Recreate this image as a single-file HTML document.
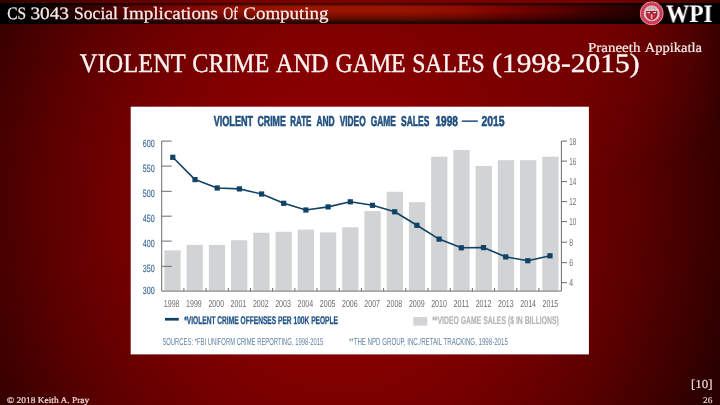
<!DOCTYPE html>
<html>
<head>
<meta charset="utf-8">
<title>Violent Crime and Game Sales</title>
<style>
html,body{margin:0;padding:0;}
body{width:720px;height:405px;overflow:hidden;position:relative;background:#6a0000;font-family:"Liberation Serif",serif;}
#bg{position:absolute;left:0;top:0;width:720px;height:405px;
 background:radial-gradient(circle at 600px 0px, rgba(144,0,0,0.58) 0, rgba(144,0,0,0.45) 50px, rgba(144,0,0,0.2) 120px, rgba(144,0,0,0) 175px),radial-gradient(ellipse 340px 378px at 340px 205px, #900000 0%, #8f0000 10%, #8d0000 20%, #8a0000 30%, #840000 40%, #7e0000 50%, #760000 60%, #6d0000 70%, #620000 80%, #560000 90%, #480000 100%, #390000 110%, #280000 120%, #260000 140%);}
#bar{position:absolute;left:0;top:3px;width:720px;height:20.5px;
 background:linear-gradient(to right,#000 0px,#000 20px,#0c0000 40px,#200000 62px,#420000 100px,#640000 140px,#7a0400 170px,#880800 200px,#941000 250px,#9a1400 300px,#9a1400 400px,#900c00 460px,#7c0400 500px,#5a0000 560px,#3c0000 600px,#280000 635px,#160000 665px,#060000 692px,#000 708px);}
#barshade{position:absolute;left:0;top:3px;width:720px;height:20.5px;
 background:linear-gradient(to bottom,rgba(0,0,0,.7) 0%,rgba(0,0,0,.45) 8%,rgba(0,0,0,0) 18%,rgba(0,0,0,0) 40%,rgba(0,0,0,.25) 65%,rgba(0,0,0,.5) 82%,rgba(0,0,0,.75) 92%,rgba(0,0,0,.8) 100%);}
.t{position:absolute;white-space:nowrap;text-rendering:geometricPrecision;will-change:transform;color:#f7ecec;line-height:1;transform-origin:0 0;}
#ref{left:691px;top:378.05px;font-size:12.2px;color:#f0dede;transform:scaleX(1.06);-webkit-text-stroke:0.15px #f0dede;}
#pg{left:703.2px;top:395.55px;font-size:8.6px;color:#ead4d4;transform:scaleX(1.08);-webkit-text-stroke:0.15px #ead4d4;}
#copy{left:6.6px;top:396.2px;font-size:8.86px;color:#f0e0e0;transform:scaleX(1.065);-webkit-text-stroke:0.2px #f0e0e0;}
#wpi{left:666px;top:1.7px;font-size:25.2px;font-weight:bold;color:#fff;transform:scaleX(0.925);}
svg{position:absolute;left:0;top:0;will-change:transform;}
</style>
</head>
<body>
<div id="bg"></div>
<div id="bar"></div>
<div id="barshade"></div>
<svg id="seal" width="720" height="30" viewBox="0 0 720 30">
<g transform="translate(651.7 13.4)">
<circle r="11.8" fill="#eda3ad"/>
<circle r="11.1" fill="#d7465f"/>
<circle r="9.4" fill="none" stroke="#ab2740" stroke-width="1.6" stroke-dasharray="1.0 1.5"/>
<circle r="7.9" fill="#ebbcc2"/>
<circle r="7.1" fill="#d9c2c4"/>
<path d="M-4.4 -4.3Q-2.4 -6.6 0 -6.6Q2.4 -6.6 4.4 -4.3L3.2 -3.3Q1.6 -4.6 0 -4.6Q-1.6 -4.6 -3.2 -3.3Z" fill="#b5abae"/>
<path d="M-0.8 -6.2H0.8V-3.2H-0.8Z" fill="#cfc6c8"/>
<path d="M-5.6 -2.5H5.6V1.2Q5.4 5 0 7.2Q-5.4 5 -5.6 1.2Z" fill="#a51a32"/>
<path d="M-4.3 -1.5H-1.5V-0.2H-4.3ZM1.5 -1.5H4.3V-0.2H1.5Z" fill="#f6dde0"/>
<path d="M-1.0 0.6H1.0V5.6L0 6.3L-1.0 5.6Z" fill="#f4939f"/>
<path d="M-3.9 1.0L-1.9 1.0L-1.9 4.7Q-3.4 3.4 -3.9 1.0ZM3.9 1.0L1.9 1.0L1.9 4.7Q3.4 3.4 3.9 1.0Z" fill="#cc3850"/>
</g>
</svg>
<div class="t" id="wpi">WPI</div>
<div class="t" id="ref">[10]</div>
<div class="t" id="pg">26</div>
<div class="t" id="copy">© 2018 Keith A. Pray</div>
<svg id="chart" width="720" height="405" viewBox="0 0 720 405">
<rect x="130.7" y="106.7" width="458.2" height="247.7" fill="#ffffff"/>
<rect x="164.35" y="250.4" width="16.3" height="40.2" fill="#d1d3d4"/>
<rect x="186.58" y="244.9" width="16.3" height="45.7" fill="#d1d3d4"/>
<rect x="208.81" y="244.9" width="16.3" height="45.7" fill="#d1d3d4"/>
<rect x="231.04" y="240.2" width="16.3" height="50.4" fill="#d1d3d4"/>
<rect x="253.27" y="232.7" width="16.3" height="57.9" fill="#d1d3d4"/>
<rect x="275.50" y="231.8" width="16.3" height="58.8" fill="#d1d3d4"/>
<rect x="297.73" y="229.6" width="16.3" height="61.0" fill="#d1d3d4"/>
<rect x="319.96" y="232.4" width="16.3" height="58.2" fill="#d1d3d4"/>
<rect x="342.19" y="227.3" width="16.3" height="63.3" fill="#d1d3d4"/>
<rect x="364.42" y="211.1" width="16.3" height="79.5" fill="#d1d3d4"/>
<rect x="386.65" y="191.8" width="16.3" height="98.8" fill="#d1d3d4"/>
<rect x="408.88" y="202.2" width="16.3" height="88.4" fill="#d1d3d4"/>
<rect x="431.11" y="156.7" width="16.3" height="133.9" fill="#d1d3d4"/>
<rect x="453.34" y="150.0" width="16.3" height="140.6" fill="#d1d3d4"/>
<rect x="475.57" y="166.0" width="16.3" height="124.6" fill="#d1d3d4"/>
<rect x="497.80" y="160.2" width="16.3" height="130.4" fill="#d1d3d4"/>
<rect x="520.03" y="160.2" width="16.3" height="130.4" fill="#d1d3d4"/>
<rect x="542.26" y="156.7" width="16.3" height="133.9" fill="#d1d3d4"/>
<g stroke="#6a6b6d" stroke-width="1" fill="none">
<path d="M171.7 141.1H161.7V291.1H561.4V141.1H567"/>
<path d="M161.7 166.1H171.7"/>
<path d="M161.7 191.3H171.7"/>
<path d="M161.7 216.2H171.7"/>
<path d="M161.7 241.1H171.7"/>
<path d="M161.7 266.3H171.7"/>
<path d="M561.4 161.1H567"/>
<path d="M561.4 181.6H567"/>
<path d="M561.4 201.6H567"/>
<path d="M561.4 221.6H567"/>
<path d="M561.4 242.2H567"/>
<path d="M561.4 262.7H567"/>
<path d="M561.4 282.7H567"/>
<path d="M183.90 288V291.1"/>
<path d="M206.09 288V291.1"/>
<path d="M228.28 288V291.1"/>
<path d="M250.47 288V291.1"/>
<path d="M272.66 288V291.1"/>
<path d="M294.85 288V291.1"/>
<path d="M317.04 288V291.1"/>
<path d="M339.23 288V291.1"/>
<path d="M361.42 288V291.1"/>
<path d="M383.61 288V291.1"/>
<path d="M405.80 288V291.1"/>
<path d="M427.99 288V291.1"/>
<path d="M450.18 288V291.1"/>
<path d="M472.37 288V291.1"/>
<path d="M494.56 288V291.1"/>
<path d="M516.75 288V291.1"/>
<path d="M538.94 288V291.1"/>
</g>
<polyline points="172.8,157.3 195.0,179.6 217.2,188.0 239.4,188.9 261.6,194.0 283.8,203.3 305.9,210.0 328.1,206.9 350.3,201.8 372.5,205.3 394.7,211.8 416.9,225.3 439.1,239.1 461.3,247.8 483.5,247.6 505.7,256.9 527.8,260.7 550.0,255.8" fill="none" stroke="#0f4265" stroke-width="1.6" stroke-linejoin="round"/>
<rect x="170.2" y="154.7" width="5.2" height="5.2" fill="#0f4265"/>
<rect x="192.4" y="177.0" width="5.2" height="5.2" fill="#0f4265"/>
<rect x="214.6" y="185.4" width="5.2" height="5.2" fill="#0f4265"/>
<rect x="236.8" y="186.3" width="5.2" height="5.2" fill="#0f4265"/>
<rect x="259.0" y="191.4" width="5.2" height="5.2" fill="#0f4265"/>
<rect x="281.1" y="200.7" width="5.2" height="5.2" fill="#0f4265"/>
<rect x="303.3" y="207.4" width="5.2" height="5.2" fill="#0f4265"/>
<rect x="325.5" y="204.3" width="5.2" height="5.2" fill="#0f4265"/>
<rect x="347.7" y="199.2" width="5.2" height="5.2" fill="#0f4265"/>
<rect x="369.9" y="202.7" width="5.2" height="5.2" fill="#0f4265"/>
<rect x="392.1" y="209.2" width="5.2" height="5.2" fill="#0f4265"/>
<rect x="414.3" y="222.7" width="5.2" height="5.2" fill="#0f4265"/>
<rect x="436.5" y="236.5" width="5.2" height="5.2" fill="#0f4265"/>
<rect x="458.7" y="245.2" width="5.2" height="5.2" fill="#0f4265"/>
<rect x="480.9" y="245.0" width="5.2" height="5.2" fill="#0f4265"/>
<rect x="503.1" y="254.3" width="5.2" height="5.2" fill="#0f4265"/>
<rect x="525.2" y="258.1" width="5.2" height="5.2" fill="#0f4265"/>
<rect x="547.4" y="253.2" width="5.2" height="5.2" fill="#0f4265"/>
<g font-family="Liberation Sans, sans-serif" text-rendering="geometricPrecision">
<text x="213.7" y="126.2" textLength="39.4" lengthAdjust="spacingAndGlyphs" font-size="14.4" font-weight="bold" fill="#21507f" stroke="#21507f" stroke-width="0.6">VIOLENT</text>
<text x="257.5" y="126.2" textLength="28.3" lengthAdjust="spacingAndGlyphs" font-size="14.4" font-weight="bold" fill="#21507f" stroke="#21507f" stroke-width="0.6">CRIME</text>
<text x="290.2" y="126.2" textLength="21.2" lengthAdjust="spacingAndGlyphs" font-size="14.4" font-weight="bold" fill="#21507f" stroke="#21507f" stroke-width="0.6">RATE</text>
<text x="316.4" y="126.2" textLength="18.3" lengthAdjust="spacingAndGlyphs" font-size="14.4" font-weight="bold" fill="#21507f" stroke="#21507f" stroke-width="0.6">AND</text>
<text x="339.7" y="126.2" textLength="26.0" lengthAdjust="spacingAndGlyphs" font-size="14.4" font-weight="bold" fill="#21507f" stroke="#21507f" stroke-width="0.6">VIDEO</text>
<text x="370.7" y="126.2" textLength="25.2" lengthAdjust="spacingAndGlyphs" font-size="14.4" font-weight="bold" fill="#21507f" stroke="#21507f" stroke-width="0.6">GAME</text>
<text x="401.0" y="126.2" textLength="28.3" lengthAdjust="spacingAndGlyphs" font-size="14.4" font-weight="bold" fill="#21507f" stroke="#21507f" stroke-width="0.6">SALES</text>
<text x="435.4" y="126.2" textLength="22.5" lengthAdjust="spacingAndGlyphs" font-size="14.4" font-weight="bold" fill="#21507f" stroke="#21507f" stroke-width="0.6">1998</text>
<text x="481.4" y="126.2" textLength="23.2" lengthAdjust="spacingAndGlyphs" font-size="14.4" font-weight="bold" fill="#21507f" stroke="#21507f" stroke-width="0.6">2015</text>
<rect x="461.8" y="120.4" width="16" height="1.5" fill="#21507f"/>
<text x="142.8" y="146.6" textLength="11.9" lengthAdjust="spacingAndGlyphs" font-size="10.45" fill="#3d6c99" stroke="#3d6c99" stroke-width="0.15">600</text>
<text x="142.8" y="171.6" textLength="11.9" lengthAdjust="spacingAndGlyphs" font-size="10.45" fill="#3d6c99" stroke="#3d6c99" stroke-width="0.15">550</text>
<text x="142.8" y="196.8" textLength="11.9" lengthAdjust="spacingAndGlyphs" font-size="10.45" fill="#3d6c99" stroke="#3d6c99" stroke-width="0.15">500</text>
<text x="142.8" y="222.2" textLength="11.9" lengthAdjust="spacingAndGlyphs" font-size="10.45" fill="#3d6c99" stroke="#3d6c99" stroke-width="0.15">450</text>
<text x="142.8" y="247.1" textLength="11.9" lengthAdjust="spacingAndGlyphs" font-size="10.45" fill="#3d6c99" stroke="#3d6c99" stroke-width="0.15">400</text>
<text x="142.8" y="272.3" textLength="11.9" lengthAdjust="spacingAndGlyphs" font-size="10.45" fill="#3d6c99" stroke="#3d6c99" stroke-width="0.15">350</text>
<text x="142.8" y="293.6" textLength="11.9" lengthAdjust="spacingAndGlyphs" font-size="10.45" fill="#3d6c99" stroke="#3d6c99" stroke-width="0.15">300</text>
<text x="569.2" y="144.7" textLength="6.9" lengthAdjust="spacingAndGlyphs" font-size="10.2" fill="#6d6e70">18</text>
<text x="569.2" y="164.7" textLength="6.9" lengthAdjust="spacingAndGlyphs" font-size="10.2" fill="#6d6e70">16</text>
<text x="569.2" y="185.2" textLength="6.9" lengthAdjust="spacingAndGlyphs" font-size="10.2" fill="#6d6e70">14</text>
<text x="569.2" y="205.2" textLength="6.9" lengthAdjust="spacingAndGlyphs" font-size="10.2" fill="#6d6e70">12</text>
<text x="569.2" y="225.2" textLength="6.9" lengthAdjust="spacingAndGlyphs" font-size="10.2" fill="#6d6e70">10</text>
<text x="569.2" y="245.8" textLength="3.8" lengthAdjust="spacingAndGlyphs" font-size="10.2" fill="#6d6e70">8</text>
<text x="569.2" y="266.3" textLength="3.8" lengthAdjust="spacingAndGlyphs" font-size="10.2" fill="#6d6e70">6</text>
<text x="569.2" y="286.3" textLength="3.8" lengthAdjust="spacingAndGlyphs" font-size="10.2" fill="#6d6e70">4</text>
<text x="163.8" y="307.1" textLength="15.7" lengthAdjust="spacingAndGlyphs" font-size="10.2" fill="#6d6e70">1998</text>
<text x="186.1" y="307.1" textLength="15.7" lengthAdjust="spacingAndGlyphs" font-size="10.2" fill="#6d6e70">1999</text>
<text x="208.4" y="307.1" textLength="15.7" lengthAdjust="spacingAndGlyphs" font-size="10.2" fill="#6d6e70">2000</text>
<text x="230.6" y="307.1" textLength="15.7" lengthAdjust="spacingAndGlyphs" font-size="10.2" fill="#6d6e70">2001</text>
<text x="252.9" y="307.1" textLength="15.7" lengthAdjust="spacingAndGlyphs" font-size="10.2" fill="#6d6e70">2002</text>
<text x="275.2" y="307.1" textLength="15.7" lengthAdjust="spacingAndGlyphs" font-size="10.2" fill="#6d6e70">2003</text>
<text x="297.5" y="307.1" textLength="15.7" lengthAdjust="spacingAndGlyphs" font-size="10.2" fill="#6d6e70">2004</text>
<text x="319.8" y="307.1" textLength="15.7" lengthAdjust="spacingAndGlyphs" font-size="10.2" fill="#6d6e70">2005</text>
<text x="342.0" y="307.1" textLength="15.7" lengthAdjust="spacingAndGlyphs" font-size="10.2" fill="#6d6e70">2006</text>
<text x="364.3" y="307.1" textLength="15.7" lengthAdjust="spacingAndGlyphs" font-size="10.2" fill="#6d6e70">2007</text>
<text x="386.6" y="307.1" textLength="15.7" lengthAdjust="spacingAndGlyphs" font-size="10.2" fill="#6d6e70">2008</text>
<text x="408.9" y="307.1" textLength="15.7" lengthAdjust="spacingAndGlyphs" font-size="10.2" fill="#6d6e70">2009</text>
<text x="431.2" y="307.1" textLength="15.7" lengthAdjust="spacingAndGlyphs" font-size="10.2" fill="#6d6e70">2010</text>
<text x="453.4" y="307.1" textLength="15.7" lengthAdjust="spacingAndGlyphs" font-size="10.2" fill="#6d6e70">2011</text>
<text x="475.7" y="307.1" textLength="15.7" lengthAdjust="spacingAndGlyphs" font-size="10.2" fill="#6d6e70">2012</text>
<text x="498.0" y="307.1" textLength="15.7" lengthAdjust="spacingAndGlyphs" font-size="10.2" fill="#6d6e70">2013</text>
<text x="520.3" y="307.1" textLength="15.7" lengthAdjust="spacingAndGlyphs" font-size="10.2" fill="#6d6e70">2014</text>
<text x="542.6" y="307.1" textLength="15.7" lengthAdjust="spacingAndGlyphs" font-size="10.2" fill="#6d6e70">2015</text>
<rect x="165" y="317.9" width="13.8" height="2.7" fill="#0f4265"/>
<text x="184.2" y="324.2" textLength="153.8" lengthAdjust="spacingAndGlyphs" font-size="11.1" fill="#24558a" font-weight="bold" stroke="#24558a" stroke-width="0.3">*VIOLENT CRIME OFFENSES PER 100K PEOPLE</text>
<rect x="413.3" y="317.1" width="14" height="8.5" fill="#d1d3d4"/>
<text x="432.2" y="324.3" textLength="126.7" lengthAdjust="spacingAndGlyphs" font-size="11.1" fill="#b3b5b8" font-weight="bold" stroke="#b3b5b8" stroke-width="0.2">**VIDEO GAME SALES ($ IN BILLIONS)</text>
<text x="162.4" y="345" textLength="160.8" lengthAdjust="spacingAndGlyphs" font-size="10.2" fill="#6283a4">SOURCES: *FBI UNIFORM CRIME REPORTING, 1998-2015</text>
<text x="348.9" y="345" textLength="158.9" lengthAdjust="spacingAndGlyphs" font-size="10.2" fill="#6283a4">**THE NPD GROUP, INC./RETAIL TRACKING, 1998-2015</text>
</g>
<g font-family="Liberation Serif, serif" text-rendering="geometricPrecision" font-size="26.7" fill="#fbf3f3" stroke="#fbf3f3" stroke-width="0.35">
<text x="79.8" y="72.3" textLength="106.0" lengthAdjust="spacingAndGlyphs">VIOLENT</text>
<text x="192.3" y="72.3" textLength="77.1" lengthAdjust="spacingAndGlyphs">CRIME</text>
<text x="275.8" y="72.3" textLength="52.8" lengthAdjust="spacingAndGlyphs">AND</text>
<text x="335.5" y="72.3" textLength="70.1" lengthAdjust="spacingAndGlyphs">GAME</text>
<text x="412.2" y="72.3" textLength="72.4" lengthAdjust="spacingAndGlyphs">SALES</text>
<text x="492.3" y="72.3" textLength="147.3" lengthAdjust="spacingAndGlyphs">(1998-2015)</text>
</g>
<g font-family="Liberation Serif, serif" text-rendering="geometricPrecision" font-size="17.56" fill="#f7ecec" stroke="#f7ecec" stroke-width="0.25">
<text x="7.3" y="19.2" textLength="18.8" lengthAdjust="spacingAndGlyphs">CS</text>
<text x="30.4" y="19.2" textLength="38.6" lengthAdjust="spacingAndGlyphs">3043</text>
<text x="74.1" y="19.2" textLength="43.8" lengthAdjust="spacingAndGlyphs">Social</text>
<text x="122.6" y="19.2" textLength="95.3" lengthAdjust="spacingAndGlyphs">Implications</text>
<text x="223.3" y="19.2" textLength="14.6" lengthAdjust="spacingAndGlyphs">Of</text>
<text x="243.3" y="19.2" textLength="85.2" lengthAdjust="spacingAndGlyphs">Computing</text>
</g>
<g font-family="Liberation Serif, serif" text-rendering="geometricPrecision" font-size="13.74" fill="#f7ecec" stroke="#f7ecec" stroke-width="0.2">
<text x="588.0" y="51.8" textLength="52.4" lengthAdjust="spacingAndGlyphs">Praneeth</text>
<text x="644.7" y="51.8" textLength="57.4" lengthAdjust="spacingAndGlyphs">Appikatla</text>
</g>
</svg>
</body>
</html>
